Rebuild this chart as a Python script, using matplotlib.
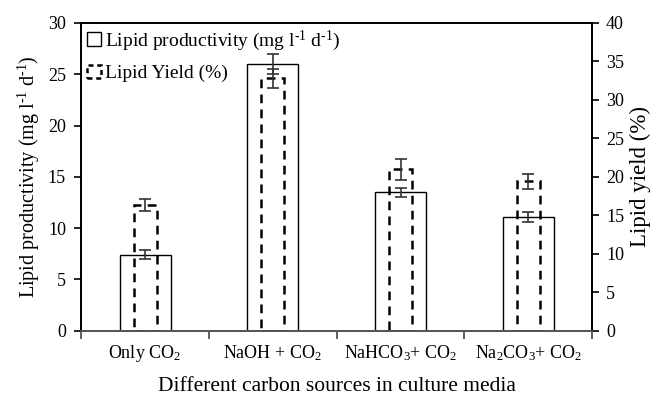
import numpy as np
import matplotlib
matplotlib.use("Agg")
import matplotlib.pyplot as plt
from matplotlib.patches import Patch

plt.rcParams['font.family'] = ['Liberation Serif', 'DejaVu Serif']
plt.rcParams['mathtext.fontset'] = 'custom'
plt.rcParams['mathtext.rm'] = 'Liberation Serif'
plt.rcParams['mathtext.it'] = 'Liberation Serif:italic'

# data
sources = ['Only CO$_2$', 'NaOH + CO$_2$', 'NaHCO$_3$+ CO$_2$', 'Na$_2$CO$_3$+ CO$_2$']
productivity = [7.4, 26.0, 13.5, 11.1]
productivity_err = [0.45, 0.95, 0.45, 0.5]
yield_pct = [16.3, 32.8, 21.0, 19.4]
yield_err = [0.8, 1.2, 1.35, 1.0]

x = np.arange(len(sources))
unit = 'mg l$^{\\text{-1}}$ d$^{\\text{-1}}$'

fig = plt.figure(figsize=(6.55, 4.01), dpi=100)
ax1 = fig.add_axes([0.124, 0.175, 0.78, 0.768])
ax2 = ax1.twinx()

ax1.bar(x, productivity, width=0.4, color='white', edgecolor='black', linewidth=1.0,
        yerr=productivity_err, capsize=4,
        error_kw=dict(ecolor='#333333', elinewidth=1.2, capthick=1.2))
ax2.bar(x, yield_pct, width=0.18, fill=False, edgecolor='black', linewidth=1.8,
        linestyle=(0, (3.5, 2.5)),
        yerr=yield_err, capsize=4,
        error_kw=dict(ecolor='#333333', elinewidth=1.2, capthick=1.2))

ax1.set_xlim(-0.5, len(sources) - 0.5)
ax1.set_ylim(0, 30)
ax2.set_ylim(0, 40)
ax1.set_yticks(np.arange(0, 31, 5))
ax2.set_yticks(np.arange(0, 41, 5))

# category boundaries as major ticks, labels on minor ticks
ax1.set_xticks(np.arange(-0.5, len(sources), 1.0))
ax1.set_xticklabels([])
ax1.set_xticks(x, minor=True)
ax1.set_xticklabels(sources, minor=True, fontsize=13)
ax1.tick_params(axis='x', which='major', direction='out', length=6, width=1.2, colors='#444444')
ax1.tick_params(axis='x', which='minor', length=0, pad=9)
ax1.tick_params(axis='y', direction='out', length=5, width=1.2, labelsize=13, pad=6)
ax2.tick_params(axis='y', direction='out', length=5, width=1.2, labelsize=13, pad=5)

for ax in (ax1, ax2):
    for s in ax.spines.values():
        s.set_linewidth(1.3)
ax1.spines['bottom'].set_color('#555555')
ax2.spines['bottom'].set_color('#555555')

ax1.set_ylabel('Lipid productivity (' + unit + ')', fontsize=14.5, labelpad=4)
ax2.set_ylabel('Lipid yield (%)', fontsize=16.5, rotation=90, labelpad=4)
ax1.set_xlabel('Different carbon sources in culture media', fontsize=15.5, labelpad=9)

handles = [Patch(facecolor='white', edgecolor='black', linewidth=1.0),
           Patch(facecolor='white', edgecolor='black', linewidth=1.8, linestyle=(0, (2, 1.5)))]
labels = ['Lipid productivity (' + unit + ')', 'Lipid Yield (%)']
ax2.legend(handles, labels, loc='upper left', frameon=False, fontsize=14,
           handlelength=0.7, handleheight=0.7, handletextpad=0.2,
           labelspacing=0.6, borderaxespad=0.1, borderpad=0.2)

fig.savefig('out.png', dpi=100)
